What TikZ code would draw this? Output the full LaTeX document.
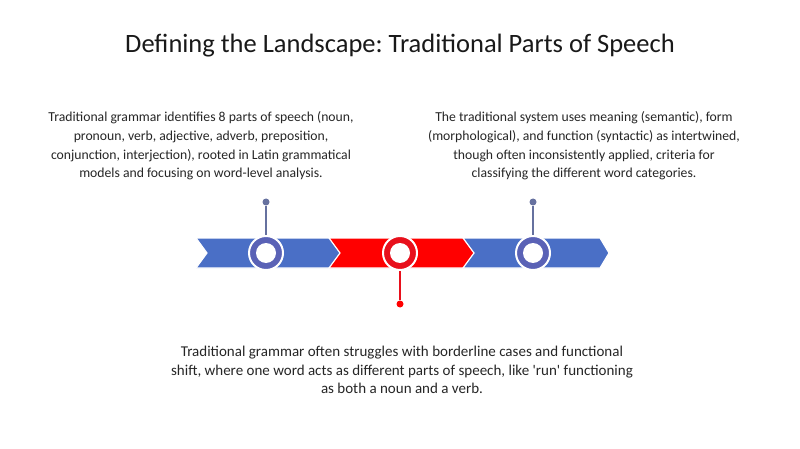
\documentclass[tikz,border=0pt]{standalone}
\usepackage{fontspec}
\setmainfont{Carlito}
\usepackage{tikz}
\frenchspacing
\definecolor{segblue}{HTML}{4A6FC6}
\definecolor{ringblue}{HTML}{5A62B6}
\definecolor{stemblue}{HTML}{66719F}
\definecolor{segred}{HTML}{FF0000}
\definecolor{ringred}{HTML}{E8101C}
\definecolor{txtgray}{HTML}{262626}
\tikzset{
	note/.style={align=center,text=txtgray,font=\fontsize{13.7}{18.6}\selectfont},
	ring/.style={circle,draw=white,line width=2pt,minimum size=34pt,inner sep=0pt},
	hole/.style={circle,fill=white,minimum size=20pt,inner sep=0pt},
	pin/.style={circle,minimum size=7pt,inner sep=0pt},
}
\begin{document}
\begin{tikzpicture}[x=1pt,y=-1pt]
			\useasboundingbox[fill=white] (0,0) rectangle (800,449);
			\node[text=black!90,font=\fontsize{26.5}{30}\selectfont] (title) at (400,46) {Defining the Landscape: Traditional Parts of Speech};

			% chevrons
			\foreach \s/\c in {196/segblue,329/segred,463/segblue}
			{
				\def\t{238}
				\def\b{268}
				\draw[white,line width=1.2pt,fill=\c] (\s,\t)--({\s+137},\t)--({\s+146},{(\t+\b)/2})--({\s+137},\b)--(\s,\b)--({\s+11},{(\t+\b)/2})--cycle;
			}

			% circles on the bar
			\foreach \x/\c/\n in {266/ringblue/one,400/ringred/two,533/ringblue/three}
			{
				\node[ring,fill=\c] (\n) at (\x,253) {};
				\node[hole] at (\n) {};
			}
			\node[pin,fill=stemblue] (pinone) at (266,202) {};
			\node[pin,fill=segred] (pintwo) at (400,304) {};
			\node[pin,fill=stemblue] (pinthree) at (533,202) {};
			\draw[stemblue,line width=1.5pt] (pinone)--(one);
			\draw[ringred,line width=1.5pt] (pintwo)--(two);
			\draw[stemblue,line width=1.5pt] (pinthree)--(three);

			\node[note] (leftnote) at (201,146) {Traditional grammar identifies 8 parts of speech (noun,\\pronoun, verb, adjective, adverb, preposition,\\conjunction, interjection), rooted in Latin grammatical\\models and focusing on word-level analysis.};
			\node[note] (rightnote) at (584,146) {The traditional system uses meaning (semantic), form\\(morphological), and function (syntactic) as intertwined,\\though often inconsistently applied, criteria for\\classifying the different word categories.};
			\node[note,font=\fontsize{15}{18.2}\selectfont] (bottomnote) at (402,370) {Traditional grammar often struggles with borderline cases and functional\\shift, where one word acts as different parts of speech, like \textquotesingle run\textquotesingle{} functioning\\as both a noun and a verb.};
		\end{tikzpicture}
\end{document}
